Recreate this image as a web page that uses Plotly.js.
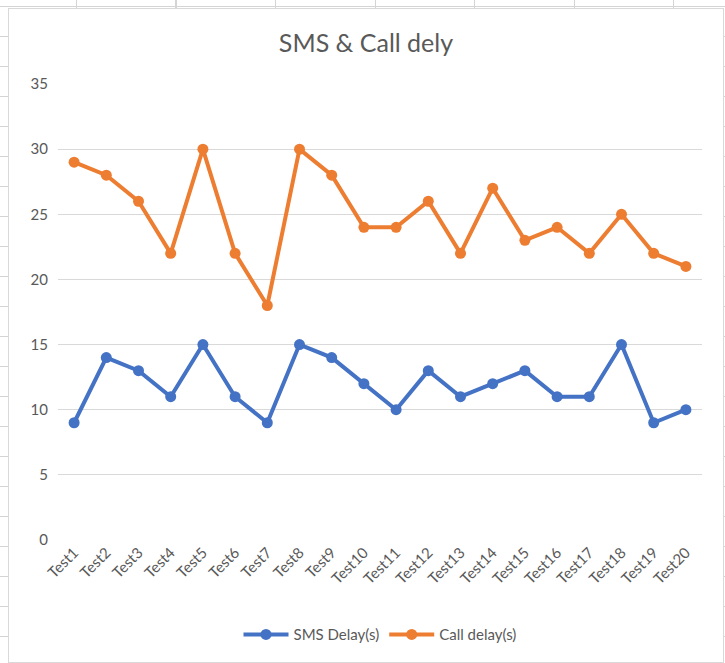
<!DOCTYPE html>
<html>
<head>
<meta charset="utf-8">
<script src="https://cdn.plot.ly/plotly-3.0.1.min.js"></script>
<style>
  html, body { margin: 0; padding: 0; width: 725px; height: 663px; overflow: hidden; }
  body {
    background-color: #ffffff;
    background-image:
      repeating-linear-gradient(to right, transparent 0px, transparent 76px, #d4d4d4 76px, #d4d4d4 77px, transparent 77px, transparent 99.5px),
      repeating-linear-gradient(to bottom, transparent 0px, transparent 6px, #d4d4d4 6px, #d4d4d4 7px, transparent 7px, transparent 30px);
    position: relative;
  }
  #chart {
    position: absolute; left: 8px; top: 8px; width: 716px; height: 655px;
    background: #ffffff; border: 1px solid #d9d9d9; box-sizing: border-box;
  }
</style>
</head>
<body>
<div id="chart"></div>
<script>
const categories = ["Test1","Test2","Test3","Test4","Test5","Test6","Test7","Test8","Test9","Test10",
                    "Test11","Test12","Test13","Test14","Test15","Test16","Test17","Test18","Test19","Test20"];
const smsDelay  = [9,14,13,11,15,11,9,15,14,12,10,13,11,12,13,11,11,15,9,10];
const callDelay = [29,28,26,22,30,22,18,30,28,24,24,26,22,27,23,24,22,25,22,21];
const yTicks = [0,5,10,15,20,25,30,35];

const fontFam = "Lato, 'Open Sans', sans-serif";
const grey = "#595959";

const traces = [
  { x: categories, y: smsDelay, name: "SMS Delay(s)", type: "scatter", mode: "lines+markers",
    line: { color: "#4472C4", width: 4 }, marker: { color: "#4472C4", size: 11 } },
  { x: categories, y: callDelay, name: "Call delay(s)", type: "scatter", mode: "lines+markers",
    line: { color: "#ED7D31", width: 4 }, marker: { color: "#ED7D31", size: 11 } }
];

const layout = {
  width: 714, height: 653,
  margin: { l: 49, r: 21, t: 75, b: 121 },
  paper_bgcolor: "#ffffff", plot_bgcolor: "#ffffff",
  font: { family: fontFam, color: grey, size: 15 },
  title: { text: "SMS &amp; Call dely", font: { family: fontFam, size: 25, color: grey },
           x: 0.5, xanchor: "center", y: 0.948, yanchor: "middle", automargin: false },
  xaxis: { type: "category", range: [-0.5, 19.5], tickangle: -45, showgrid: false, zeroline: false,
           showline: false, ticks: "", tickfont: { size: 15, color: grey }, fixedrange: true,
           automargin: false },
  yaxis: { range: [0, 35], tickvals: yTicks, showgrid: true, gridcolor: "#d9d9d9", gridwidth: 1,
           zeroline: false, showline: false, ticks: "", tickfont: { size: 15, color: grey },
           ticklabelstandoff: 9, fixedrange: true, automargin: false },
  showlegend: true,
  legend: { orientation: "h", x: 0.5, xanchor: "center", y: -0.205, yanchor: "middle",
            font: { size: 15, color: grey }, itemwidth: 45 },
  hovermode: false
};

Plotly.newPlot("chart", traces, layout, { displayModeBar: false, staticPlot: true });
</script>
</body>
</html>
